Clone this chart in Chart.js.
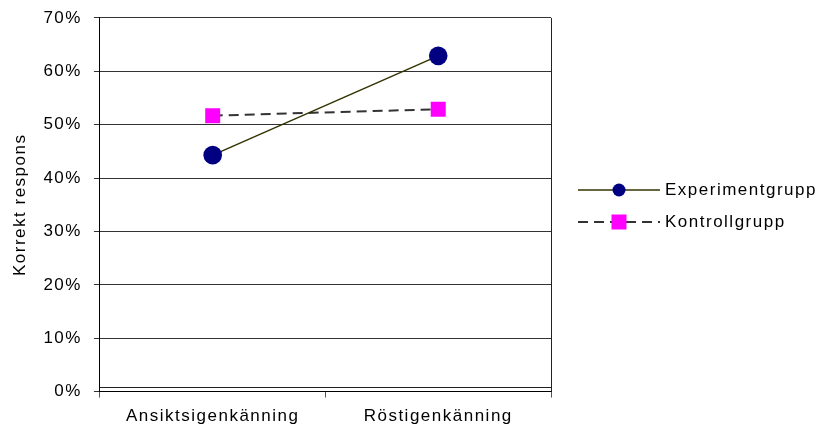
<!DOCTYPE html>
<html lang="sv">
<head>
<meta charset="UTF-8">
<title>Korrekt respons</title>
<script src="https://cdn.jsdelivr.net/npm/chart.js"></script>
<style>
  html, body { margin: 0; padding: 0; background: #fff; }
  #wrap { position: relative; width: 821px; height: 428px; }
  #chart { display: block; }
  #legend { position: absolute; left: 578px; top: 174px; font: 17px "Liberation Sans", Arial, sans-serif; letter-spacing: 1.5px; color: #000; }
  #legend .row { display: flex; align-items: center; height: 32px; white-space: nowrap; }
  #legend canvas { display: block; margin-right: 5px; }
</style>
</head>
<body>
<div id="wrap">
  <canvas id="chart" width="821" height="428"></canvas>
  <div id="legend"></div>
</div>
<script>
  const categories = ['Ansiktsigenkänning', 'Röstigenkänning'];
  const experimentgrupp = [44.3, 62.9];
  const kontrollgrupp = [51.7, 52.9];
  const yTicks = [0, 10, 20, 30, 40, 50, 60, 70];

  // legend sample: line with marker in the middle
  function legendSample(dashed, marker) {
    const c = document.createElement('canvas');
    c.width = 82; c.height = 18;
    const g = c.getContext('2d');
    g.strokeStyle = dashed ? '#333333' : '#333300';
    g.lineWidth = dashed ? 2 : 1.5;
    if (dashed) g.setLineDash([10, 6]);
    g.beginPath(); g.moveTo(0, 9); g.lineTo(82, 9); g.stroke();
    g.setLineDash([]);
    if (marker === 'circle') {
      g.fillStyle = '#000080';
      g.beginPath(); g.arc(41, 9, 6.5, 0, Math.PI * 2); g.fill();
    } else {
      g.fillStyle = '#ff00ff';
      g.fillRect(33.5, 1.5, 15, 15);
    }
    return c;
  }

  const spacing = {
    id: 'spacing',
    beforeUpdate(chart) { chart.ctx.letterSpacing = '1.5px'; },
    beforeDraw(chart) { chart.ctx.letterSpacing = '1.5px'; }
  };

  const frame = {
    id: 'frame',
    beforeDatasetsDraw(chart) {
      const { ctx, chartArea: a } = chart;
      ctx.save();
      ctx.strokeStyle = '#222';
      ctx.lineWidth = 1;
      ctx.beginPath();
      ctx.moveTo(Math.round(a.right) + 0.5, a.top);
      ctx.lineTo(Math.round(a.right) + 0.5, a.bottom);
      ctx.moveTo(a.left, Math.round(a.bottom) - 4.5);
      ctx.lineTo(a.right, Math.round(a.bottom) - 4.5);
      ctx.stroke();
      ctx.restore();
    }
  };

  Chart.defaults.font.family = '"Liberation Sans", Arial, sans-serif';
  Chart.defaults.font.size = 17;
  Chart.defaults.color = '#000';

  const chart = new Chart(document.getElementById('chart'), {
    type: 'line',
    data: {
      labels: categories,
      datasets: [
        {
          label: 'Experimentgrupp',
          data: experimentgrupp,
          borderColor: '#333300',
          borderWidth: 1.5,
          pointStyle: 'circle',
          pointRadius: 9.3,
          pointBackgroundColor: '#000080',
          pointBorderColor: '#000080',
          pointBorderWidth: 0
        },
        {
          label: 'Kontrollgrupp',
          data: kontrollgrupp,
          borderColor: '#333333',
          borderWidth: 2,
          borderDash: [10, 6],
          pointStyle: 'rect',
          pointRadius: 10.6,
          pointBackgroundColor: '#ff00ff',
          pointBorderColor: '#ff00ff',
          pointBorderWidth: 0
        }
      ]
    },
    options: {
      responsive: false,
      animation: false,
      layout: { padding: { left: 4, top: 14, bottom: -7, right: 270 } },
      plugins: {
        tooltip: { enabled: false },
        legend: { display: false }
      },
      scales: {
        x: {
          offset: true,
          grid: { display: true, drawOnChartArea: false, drawTicks: true, tickLength: 6, offset: true, color: '#555' },
          border: { display: true, color: '#000', width: 1 },
          ticks: { padding: 8.5, maxRotation: 0 }
        },
        y: {
          min: 0,
          max: 70,
          afterBuildTicks(scale) { scale.ticks = yTicks.map(v => ({ value: v })); },
          ticks: { padding: 12, font: { lineHeight: 0.7 }, callback: v => v + '%' },
          grid: { color: '#333', tickLength: 6 },
          border: { display: true, color: '#000' },
          title: { display: true, text: 'Korrekt respons', padding: { top: 6, bottom: 1 } }
        }
      }
    },
    plugins: [spacing, frame]
  });

  // legend built from the chart's datasets
  const legend = document.getElementById('legend');
  chart.data.datasets.forEach((ds, i) => {
    const row = document.createElement('div');
    row.className = 'row';
    row.appendChild(legendSample(i === 1, i === 0 ? 'circle' : 'rect'));
    const span = document.createElement('span');
    span.textContent = ds.label;
    row.appendChild(span);
    legend.appendChild(row);
  });
</script>
</body>
</html>
